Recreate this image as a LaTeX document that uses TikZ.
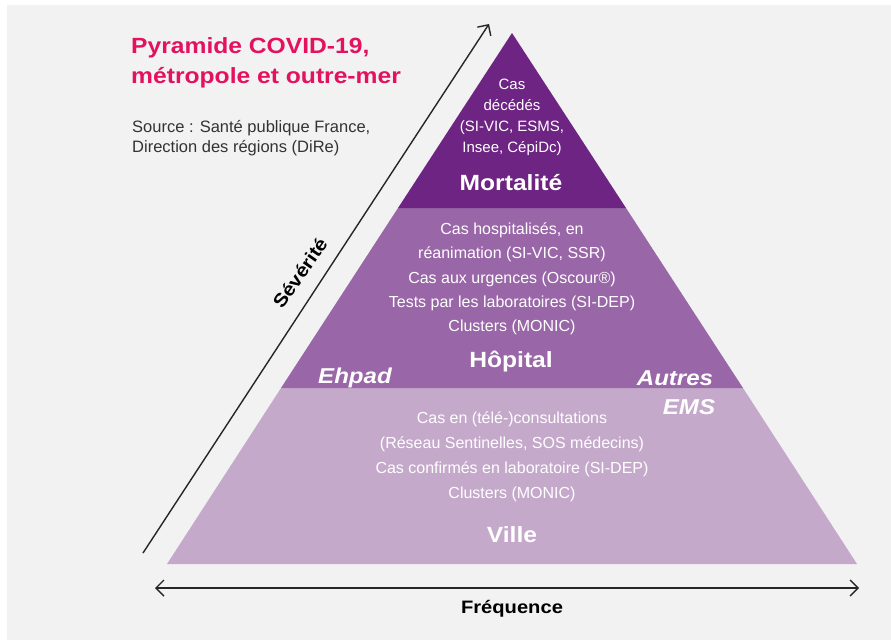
\documentclass[tikz,border=0pt]{standalone}
\usepackage{fontspec}
\setmainfont{Liberation Sans}
\newfontfamily\wideface[FakeStretch=1.12]{Liberation Sans}
\usetikzlibrary{arrows.meta}
\definecolor{bggray}{HTML}{F2F2F2}
\definecolor{titlered}{HTML}{E3115E}
\definecolor{tierdark}{HTML}{6D2483}
\definecolor{tiermid}{HTML}{9966A7}
\definecolor{tierlight}{HTML}{C5A9CB}
\definecolor{inktext}{HTML}{333333}
\tikzset{
  axisline/.style={line width=1.4pt, black!85},
  tiptip/.tip={Straight Barb[length=8pt,width=16pt,line width=1.4pt]},
  tiertext/.style={text=white, align=center, inner sep=0pt},
  tierlabel/.style={text=white, font=\wideface\fontsize{22}{24}\selectfont\bfseries, inner sep=0pt},
  sidelabel/.style={text=white, font=\wideface\fontsize{21.5}{24}\selectfont\bfseries\itshape, inner sep=0pt},
  axislabel/.style={text=black, font=\wideface\fontsize{18}{20}\selectfont\bfseries, inner sep=0pt},
  titletext/.style={anchor=base west, inner sep=0pt, text=titlered, font=\wideface\fontsize{22}{26}\selectfont\bfseries},
  sourcetext/.style={anchor=base west, inner sep=0pt, text=inktext, font=\fontsize{16.5}{20}\selectfont},
}
\begin{document}
\begin{tikzpicture}[x=1pt,y=-1pt]
\useasboundingbox (0,0) rectangle (891,640);
\fill[white] (0,0) rectangle (891,640);
\fill[bggray] (7,5) rectangle (891,640);

% pyramid tiers
\fill[tierlight] (281,388) -- (743,388) -- (857,564) -- (167,564) -- cycle;
\fill[tiermid] (398,208) -- (626,208) -- (743,388) -- (281,388) -- cycle;
\fill[tierdark] (512,33) -- (626,208) -- (398,208) -- cycle;

% title and source
\node[titletext] (title1) at (131,53) {Pyramide COVID-19,};
\node[titletext] (title2) at (131,83) {métropole et outre-mer};
\node[sourcetext] (src1) at (132,132) {Source : Santé publique France,};
\node[sourcetext] (src2) at (132,152) {Direction des régions (DiRe)};

% top tier
\node[tiertext, font=\fontsize{15}{21}\selectfont] (toptext) at (512,117) {Cas\\décédés\\(SI-VIC, ESMS,\\Insee, CépiDc)};
\node[tierlabel] (mort) at (511,183) {Mortalité};

% middle tier
\node[tiertext, font=\fontsize{16}{24.3}\selectfont] (midtext) at (512,279) {Cas hospitalisés, en\\réanimation (SI-VIC, SSR)\\Cas aux urgences (Oscour®)\\Tests par les laboratoires (SI-DEP)\\Clusters (MONIC)};
\node[tierlabel] (hop) at (511,362) {Hôpital};
\node[sidelabel] (ehpad) at (355,378) {Ehpad};
\node[sidelabel] (autres) at (675,378) {Autres};
\node[sidelabel] (ems) at (689,407) {EMS};

% bottom tier
\node[tiertext, font=\fontsize{16}{25}\selectfont] (lowtext) at (512,457) {Cas en (télé-)consultations\\(Réseau Sentinelles, SOS médecins)\\Cas confirmés en laboratoire (SI-DEP)\\Clusters (MONIC)};
\node[tierlabel] (ville) at (512,535) {Ville};

% axes
\coordinate (sevA) at (143,553);
\coordinate (sevB) at (489,24);
\draw[axisline, -{tiptip}] (sevA) -- (sevB);
\node[axislabel, font=\wideface\fontsize{18.5}{20}\selectfont\bfseries, rotate=55] (sev) at (300,273) {Sévérité};

\coordinate (fqL) at (155,588);
\coordinate (fqR) at (859,588);
\draw[axisline, {tiptip}-{tiptip}] (fqL) -- (fqR);
\node[axislabel] (freq) at (512,609) {Fréquence};
\end{tikzpicture}
\end{document}
